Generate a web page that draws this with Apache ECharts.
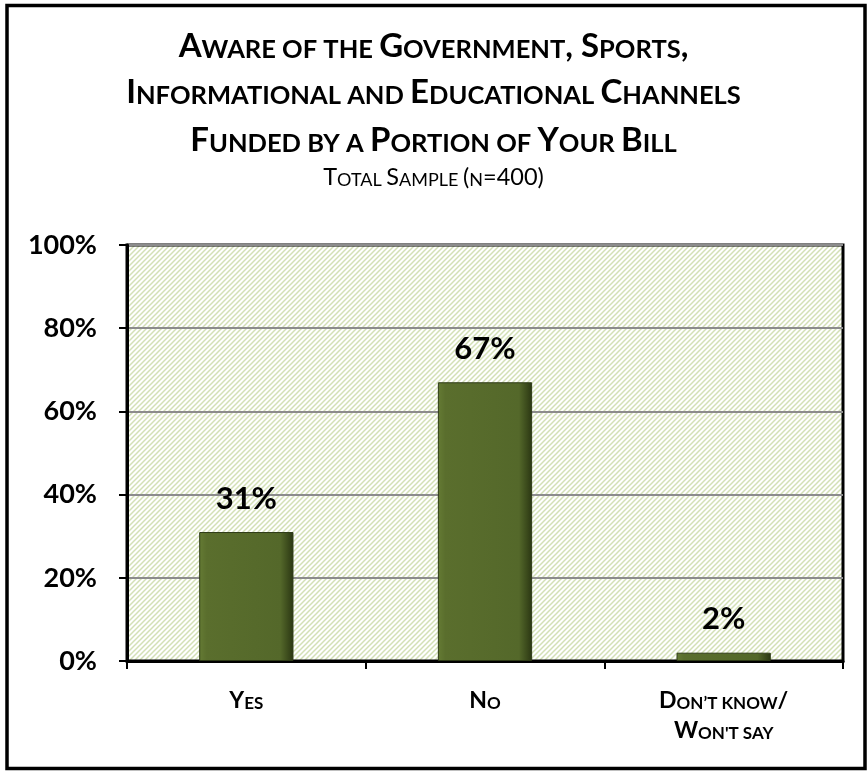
<!DOCTYPE html>
<html>
<head>
<meta charset="utf-8">
<script src="https://cdn.jsdelivr.net/npm/echarts@6/dist/echarts.min.js"></script>
<style>
  html, body { margin: 0; padding: 0; background: #fff; }
  #chart { width: 867px; height: 773px; }
</style>
</head>
<body>
<div id="chart"></div>
<script>
// Survey results: awareness of the PEG channels funded by the bill
const titleLines = [
  'Aware of the Government, Sports,',
  'Informational and Educational Channels',
  'Funded by a Portion of Your Bill'
];
const subtitle = 'Total Sample (n=400)';
const categories = ['Yes', 'No', 'Don’t know/\nWon\'t say'];
const values = [31, 67, 2];
const yTicks = [0, 20, 40, 60, 80, 100];

const FONT = 'Lato';

// Turn plain text into small-caps rich text: capitals stay full size,
// lowercase letters become smaller capitals.
function smallCaps(str, big, small) {
  return str.split('\n').map(function (line) {
    let out = '';
    let cur = null;
    let buf = '';
    for (const ch of line) {
      let kind;
      if (/[a-z]/.test(ch)) kind = small;
      else if (/[\s’']/.test(ch) && cur) kind = cur;
      else kind = big;
      if (kind !== cur && buf) {
        out += '{' + cur + '|' + buf + '}';
        buf = '';
      }
      cur = kind;
      buf += ch.toUpperCase();
    }
    if (buf) out += '{' + cur + '|' + buf + '}';
    return out;
  }).join('\n');
}

// Light green diagonal hatch for the plot background
function hatchPattern() {
  const c = document.createElement('canvas');
  c.width = 5; c.height = 5;
  const g = c.getContext('2d');
  g.fillStyle = '#ffffff';
  g.fillRect(0, 0, 5, 5);
  g.strokeStyle = '#d3e0b6';
  g.lineWidth = 1.5;
  g.beginPath();
  g.moveTo(-1, 6); g.lineTo(6, -1);
  g.moveTo(-3.5, 3.5); g.lineTo(3.5, -3.5);
  g.moveTo(1.5, 8.5); g.lineTo(8.5, 1.5);
  g.stroke();
  return c;
}

// Rich styles; tokens sit on a shared bottom edge so the small capitals share a baseline
function richPair(weight, bigSize, smallSize, lineH) {
  return {
    b: { fontFamily: FONT, fontWeight: weight, fontSize: bigSize, lineHeight: lineH, color: '#000', verticalAlign: 'bottom' },
    s: { fontFamily: FONT, fontWeight: weight, fontSize: smallSize, lineHeight: lineH - 0.6 * (bigSize - smallSize), color: '#000', verticalAlign: 'bottom' }
  };
}

const titleRich = richPair('bold', 33, 25.5, 33);
const subRich = richPair('normal', 23.5, 18, 24);

const titleTops = [30, 76, 124];
const titles = titleLines.map(function (t, i) {
  return {
    text: smallCaps(t, 'b', 's'),
    left: 'center',
    top: titleTops[i],
    padding: 0,
    textStyle: { rich: titleRich }
  };
});
titles.push({
  text: smallCaps(subtitle, 'b', 's'),
  left: 'center',
  top: 165,
  padding: 0,
  textStyle: { rich: subRich }
});

const chart = echarts.init(document.getElementById('chart'), null, { renderer: 'canvas' });

chart.setOption({
  backgroundColor: '#ffffff',
  animation: false,
  title: titles,
  graphic: [{
    type: 'rect',
    shape: { x: 7, y: 5.5, width: 858, height: 763 },
    style: { fill: 'none', stroke: '#000', lineWidth: 3.5 },
    z: 100
  }],
  grid: {
    left: 127, top: 245, right: 24, bottom: 112,
    show: true,
    backgroundColor: { image: hatchPattern(), repeat: 'repeat' },
    borderColor: '#000',
    borderWidth: 3
  },
  xAxis: {
    type: 'category',
    data: categories,
    axisLine: { show: true, lineStyle: { color: '#000', width: 3 } },
    axisTick: { show: true, length: 8, lineStyle: { color: '#000', width: 2 } },
    axisLabel: {
      margin: 21,
      formatter: function (v) { return smallCaps(v, 'b', 's'); },
      rich: richPair('bold', 23, 17, 30)
    }
  },
  yAxis: {
    type: 'value',
    min: yTicks[0],
    max: yTicks[yTicks.length - 1],
    interval: yTicks[1] - yTicks[0],
    axisLine: { show: true, lineStyle: { color: '#000', width: 3 } },
    axisTick: { show: true, length: 8, lineStyle: { color: '#000', width: 2 } },
    axisLabel: {
      margin: 30,
      formatter: '{value}%',
      fontFamily: FONT, fontWeight: 'bold', fontSize: 27, color: '#000'
    },
    splitLine: { show: true, lineStyle: { color: '#8c8c8c', width: 2 } }
  },
  series: [{
    type: 'bar',
    data: values,
    barWidth: '39.5%',
    itemStyle: {
      color: {
        type: 'linear', x: 0, y: 0, x2: 1, y2: 0,
        colorStops: [
          { offset: 0, color: '#657b34' },
          { offset: 0.08, color: '#5a6e2d' },
          { offset: 0.86, color: '#54682a' },
          { offset: 1, color: '#2a3612' }
        ]
      },
      borderColor: '#2e3a17',
      borderWidth: 1
    },
    label: {
      show: true,
      position: 'top',
      distance: 18,
      formatter: '{c}%',
      fontFamily: FONT, fontWeight: 'bold', fontSize: 31, color: '#000'
    }
  }]
});
</script>
</body>
</html>
